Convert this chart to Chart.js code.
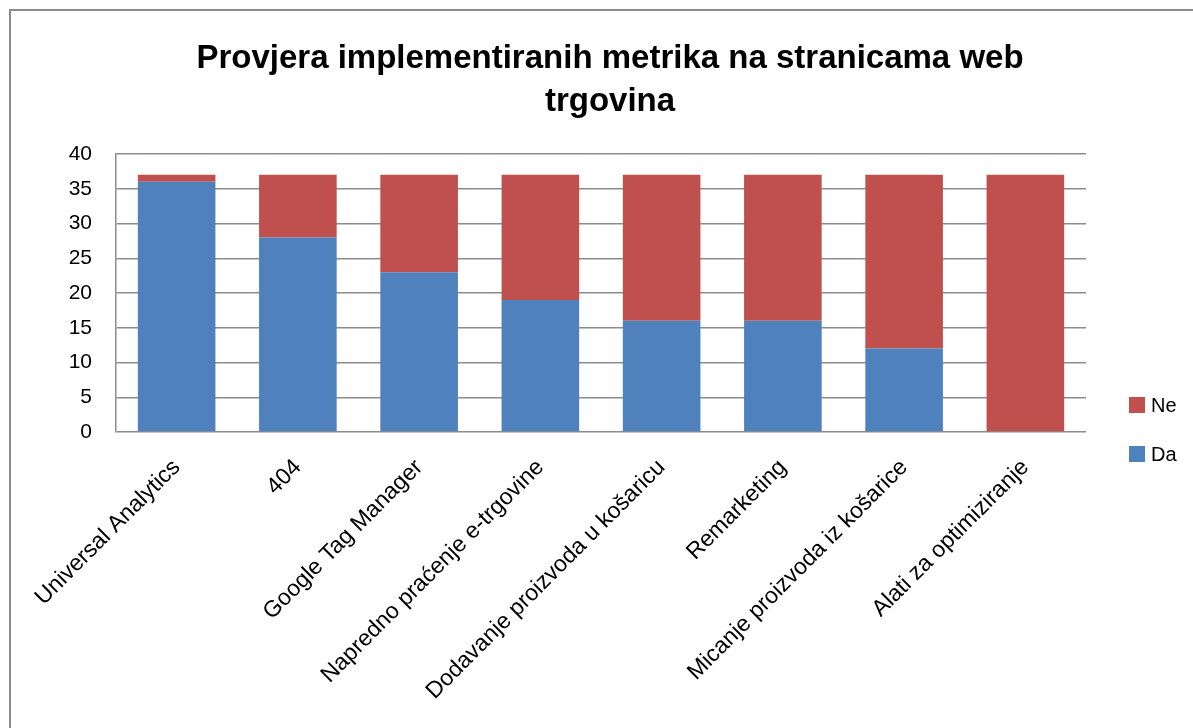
<!DOCTYPE html>
<html>
<head>
<meta charset="utf-8">
<script src="https://cdn.jsdelivr.net/npm/chart.js@4.4.0/dist/chart.umd.min.js"></script>
<style>
  html, body { margin: 0; padding: 0; background: #fff; overflow: hidden; }
  #frame { position: absolute; left: 9px; top: 9px; width: 1300px; height: 900px; border: 2px solid #8a8a8a; box-sizing: border-box; }
  #wrap { position: absolute; left: 0; top: 0; width: 1193px; height: 728px; }
  #title { position: absolute; left: 0; top: 35px; width: 1220px; text-align: center; font-family: "Liberation Sans", sans-serif; font-weight: bold; font-size: 33px; line-height: 43px; color: #000; }
  #legend { position: absolute; left: 1129px; top: 394px; font-family: "Liberation Sans", sans-serif; font-size: 20px; color: #000; }
  #legend div { height: 49px; display: flex; align-items: flex-start; }
  #legend span.box { display: inline-block; width: 16px; height: 16px; margin-top: 3px; margin-right: 6px; }
</style>
</head>
<body>
<div id="frame"></div>
<div id="wrap"><canvas id="chartOne" width="1193" height="728"></canvas></div>
<div id="title">Provjera implementiranih metrika na stranicama web<br>trgovina</div>
<div id="legend">
  <div><span class="box" style="background:#C0504D"></span>Ne</div>
  <div><span class="box" style="background:#4F81BD"></span>Da</div>
</div>
<script>
// podaci
let kategorije = ['Universal Analytics', '404', 'Google Tag Manager', 'Napredno praćenje e-trgovine',
    'Dodavanje proizvoda u košaricu', 'Remarketing', 'Micanje proizvoda iz košarice', 'Alati za optimiziranje'];
let da = [36, 28, 23, 19, 16, 16, 12, 0];
let ne = [1, 9, 14, 18, 21, 21, 25, 37];
let yTicks = [0, 5, 10, 15, 20, 25, 30, 35, 40];

let font = "'Liberation Sans', sans-serif";

var ctx = document.getElementById('chartOne').getContext('2d');
var chartOne = new Chart(ctx, {
    type: 'bar',
    data: {
        labels: kategorije,
        datasets: [{
            label: 'Da',
            backgroundColor: '#4F81BD',
            data: da,
            barPercentage: 0.64,
            categoryPercentage: 1
        }, {
            label: 'Ne',
            backgroundColor: '#C0504D',
            data: ne,
            barPercentage: 0.64,
            categoryPercentage: 1
        }]
    },
    options: {
        responsive: false,
        animation: false,
        layout: { padding: { left: 0, right: 107, top: 154, bottom: 0 } },
        plugins: {
            legend: { display: false },
            tooltip: { enabled: false },
            title: { display: false }
        },
        scales: {
            x: {
                stacked: true,
                grid: { display: false, drawTicks: false },
                border: { display: false },
                ticks: {
                    color: '#000',
                    font: { family: font, size: 23 },
                    minRotation: 45,
                    maxRotation: 45,
                    padding: 22,
                    autoSkip: false
                },
                afterFit: function(scale) { scale.height = 296; }
            },
            y: {
                stacked: true,
                min: 0,
                max: 40,
                afterBuildTicks: function(scale) {
                    scale.ticks = yTicks.map(function(v) { return { value: v }; });
                },
                grid: { color: '#8c8c8c', lineWidth: 1.5, drawTicks: false },
                border: { display: true, color: '#8c8c8c', width: 1.5 },
                ticks: {
                    color: '#000',
                    font: { family: font, size: 21 },
                    padding: 24
                },
                afterFit: function(scale) { scale.width = 116; }
            }
        }
    }
});
</script>
</body>
</html>
